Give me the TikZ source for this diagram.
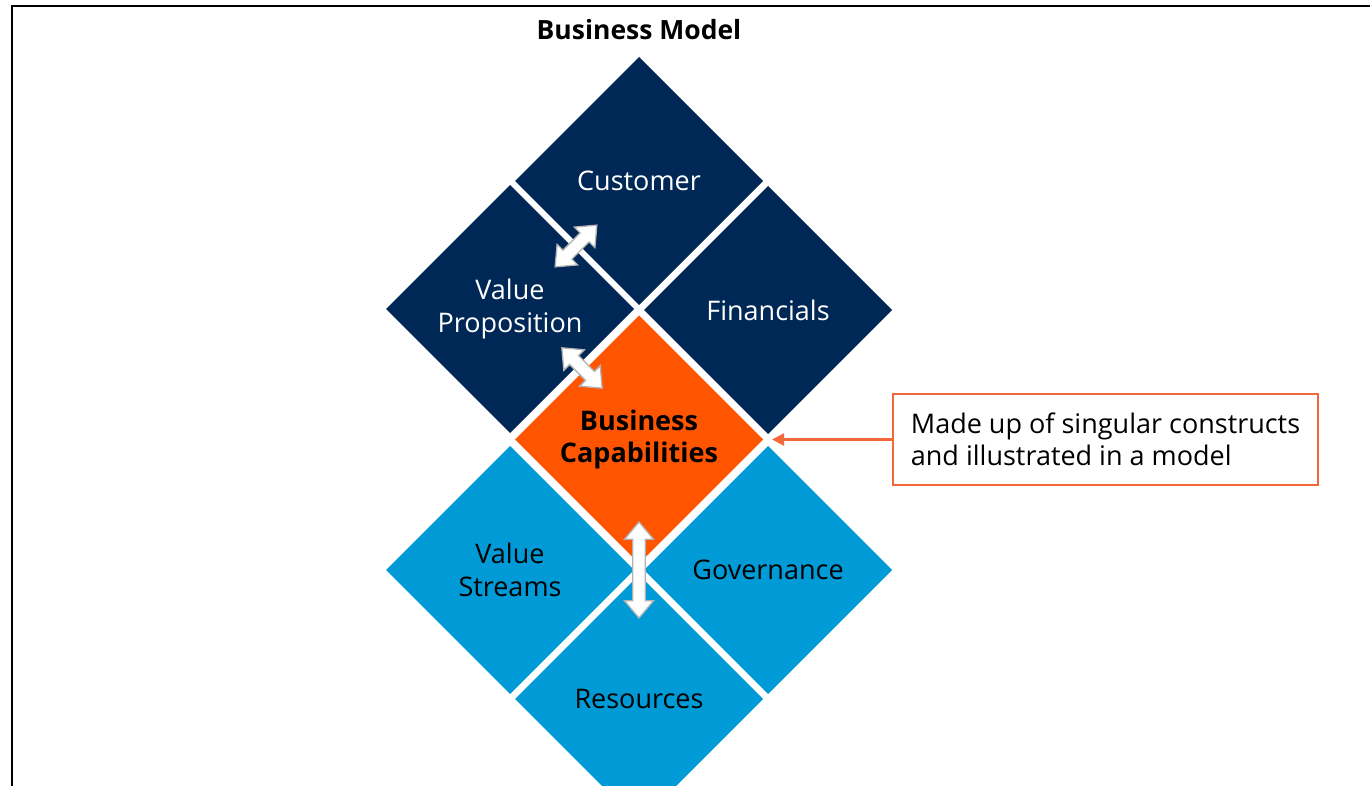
\documentclass[tikz,border=0pt]{standalone}
\usepackage{fontspec}
\setmainfont{Open Sans}
\usetikzlibrary{shapes.geometric,shapes.arrows,arrows.meta}
\definecolor{navy}{HTML}{002856}
\definecolor{sky}{HTML}{009BD6}
\definecolor{bizorange}{HTML}{FF5500}
\definecolor{lineorange}{HTML}{F2683A}
\definecolor{arrowgray}{HTML}{B4B4B4}
\tikzset{
  cell/.style={diamond, minimum width=248pt, minimum height=248pt, inner sep=0pt, outer sep=0pt,
    align=center, font=\fontsize{27}{33}\selectfont},
  darkcell/.style={cell, fill=navy, text=white},
  lightcell/.style={cell, fill=sky, text=black},
  corecell/.style={cell, fill=bizorange, text=black, font=\fontsize{27}{32}\selectfont\bfseries},
  dblarrow/.style={double arrow, draw=arrowgray, line width=1.3pt, fill=white, inner sep=5.5pt,
    double arrow head extend=8pt, double arrow tip angle=80, minimum width=29pt},
  callout/.style={draw=lineorange, line width=2pt, fill=white, minimum width=425pt,
    minimum height=91pt, align=left, inner sep=0pt, font=\fontsize{27}{32}\selectfont},
  pointer/.style={draw=lineorange, line width=2.2pt, -{Triangle[length=12pt,width=12pt]}}
}
\begin{document}
\begin{tikzpicture}[x=1pt,y=-1pt]
\useasboundingbox (0,0) rectangle (1370,786);
\fill[white] (0,0) rectangle (1370,786);
\draw[line width=2pt] (12,786) -- (12,6) -- (1370,6);
\node[font=\fontsize{26.5}{30}\selectfont\bfseries] (title) at (639,30) {Business Model};
\begin{scope}
\clip (0,0) rectangle (1370,786);
\node[darkcell] (cust) at (639,181) {\raisebox{-2pt}{Customer}};
\node[darkcell] (vp) at (510,309) {Value\\Proposition};
\node[darkcell] (fin) at (768,310) {\raisebox{-2pt}{Financials}};
\node[corecell] (bc) at (639,439.5) {\raisebox{-3pt}{Business}\\\raisebox{-3pt}{Capabilities}};
\node[lightcell] (vs) at (510,570) {Value\\Streams};
\node[lightcell] (gov) at (768,570) {\raisebox{-2pt}{Governance}};
\node[lightcell] (res) at (639,699) {\raisebox{-2pt}{Resources}};
\end{scope}
\node[dblarrow, minimum height=59pt, rotate=45] (a1) at (576,246) {};
\node[dblarrow, minimum height=57pt, rotate=-45] (a2) at (582,368) {};
\node[dblarrow, minimum height=96pt, rotate=90] (a3) at (639,570) {};
\node[callout] (note) at (1105.5,439.5) {Made up of singular constructs\\and illustrated in a model};
\draw[pointer, shorten >=9pt] (note.west) -- (bc.east);
\end{tikzpicture}
\end{document}
